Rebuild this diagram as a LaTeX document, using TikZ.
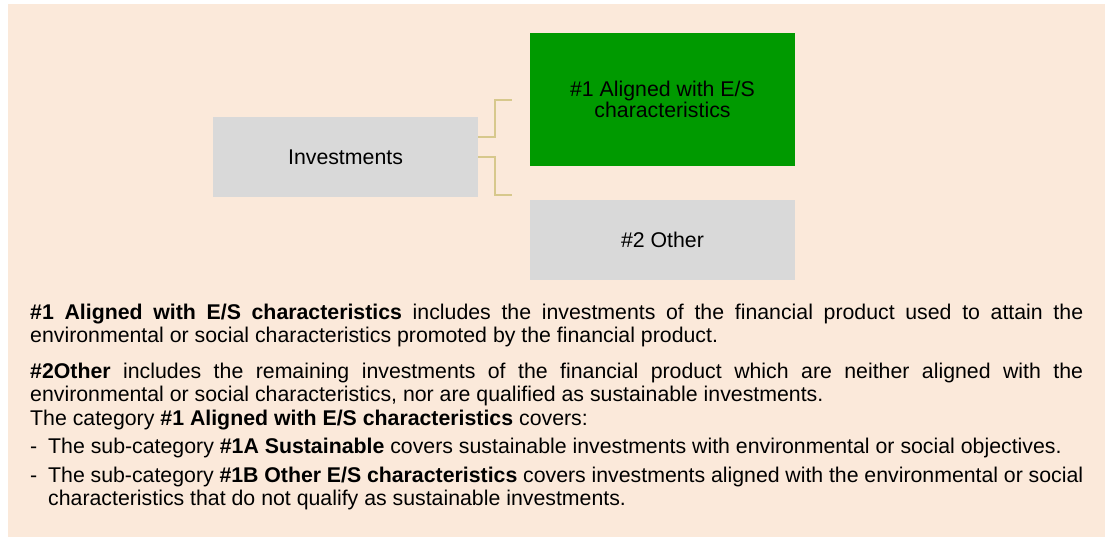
\documentclass[tikz,border=0pt]{standalone}
\usepackage{fontspec}
\setmainfont{Liberation Sans}
\usepackage{xcolor}
\usetikzlibrary{positioning,backgrounds}
\definecolor{paper}{HTML}{FBE9DA}
\definecolor{boxgray}{HTML}{D9D9D9}
\definecolor{boxgreen}{HTML}{009A00}
\definecolor{linktan}{HTML}{D7C88C}
\tikzset{%
graybox/.style={rectangle, fill=boxgray, minimum width=265pt, minimum height=80pt, inner sep=0pt, outer sep=0pt, font=\fontsize{21.3}{23}\selectfont},
greenbox/.style={graybox, fill=boxgreen, minimum height=133pt, align=center, font=\fontsize{21.3}{19.5}\selectfont},
link/.style={draw=linktan, line width=2pt, -},
notes/.style={anchor=base west, text width=1053pt, align=justify, inner sep=0pt, font=\fontsize{21.3}{23}\selectfont}
}

\begin{document}
\begin{tikzpicture}[x=1pt, y=-1pt]
		\useasboundingbox (0,0) rectangle (1109,539);
		\fill[paper] (8,4) rectangle (1105,537);
		
		\node[graybox] (invest) at (345.5,157) {Investments};
		\node[greenbox] (aligned) [right=52pt of invest, yshift=57.5pt] {\#1 Aligned with E/S\\characteristics};
		\node[graybox] (other) [below=34pt of aligned] {\#2 Other};
		
		\coordinate (upend) at (512,100);
		\coordinate (downend) at (512,195);
		\draw[link] ([yshift=20pt]invest.east) -- ++(17,0) |- (upend);
		\draw[link] (invest.east) -- ++(17,0) |- (downend);
		
		\node[notes] (legend) at (30,319) {%
			\textbf{\#1 Aligned with E/S characteristics} includes the investments of the financial product used to attain the\linebreak
			environmental or social characteristics promoted by the financial product.\par
			\vspace{13pt}
			\textbf{\#2Other} includes the remaining investments of the financial product which are neither aligned with the\linebreak
			environmental or social characteristics, nor are qualified as sustainable investments.\par
			\vspace{1pt}
			The category \textbf{\#1 Aligned with E/S characteristics} covers:\par
			\vspace{5pt}
			\makebox[18pt][l]{-}The sub-category \textbf{\#1A Sustainable} covers sustainable investments with environmental or social objectives.\hangindent=18pt\hangafter=1\par
			\vspace{6pt}
			\makebox[18pt][l]{-}The sub-category \textbf{\#1B Other E/S characteristics} covers investments aligned with the environmental or social\linebreak
			characteristics that do not qualify as sustainable investments.\hangindent=18pt\hangafter=1\par
		};
	\end{tikzpicture}
\end{document}
